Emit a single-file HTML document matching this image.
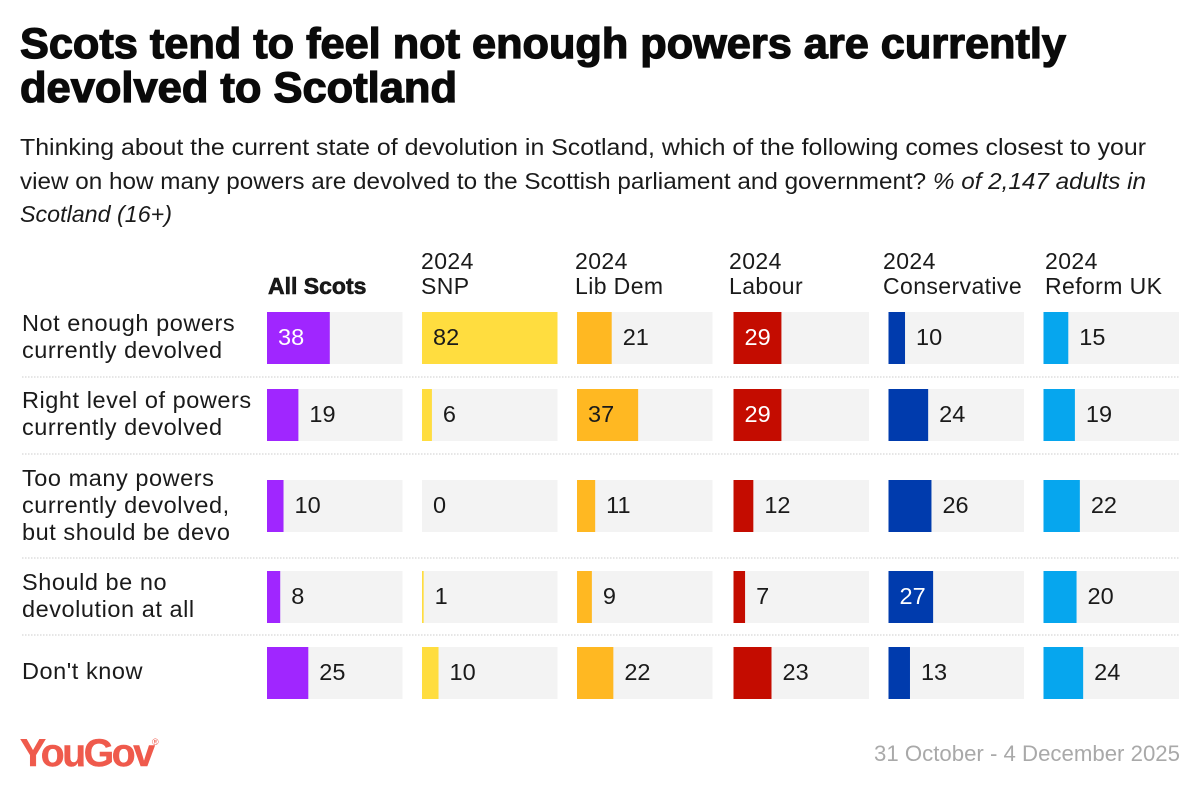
<!DOCTYPE html>
<html lang="en">
<head>
<meta charset="utf-8">
<title>Scots tend to feel not enough powers are currently devolved to Scotland</title>
<style>
html,body{margin:0;padding:0;background:#fff;}
svg{display:block;font-family:"Liberation Sans",sans-serif;}
.title{font-size:43px;font-weight:700;fill:#0a0a0a;stroke:#0a0a0a;stroke-width:1.3px;}
.sub{font-size:23.5px;fill:#1a1a1a;}
.head{font-size:23px;fill:#1a1a1a;letter-spacing:.4px;}
.cat{font-size:23.5px;fill:#1a1a1a;letter-spacing:.55px;}
.val{font-size:23.5px;}
</style>
</head>
<body>
<svg id="chart" width="1200" height="792" viewBox="0 0 1200 792" xmlns="http://www.w3.org/2000/svg">
<rect width="1200" height="792" fill="#fff"/>
<g>
<text class="title" x="20" y="58" textLength="1046" lengthAdjust="spacingAndGlyphs">Scots tend to feel not enough powers are currently</text>
<text class="title" x="20" y="102" textLength="437" lengthAdjust="spacingAndGlyphs">devolved to Scotland</text>
</g>
<g>
<text class="sub" x="20" y="155" textLength="1126" lengthAdjust="spacingAndGlyphs">Thinking about the current state of devolution in Scotland, which of the following comes closest to your</text>
<text class="sub" x="20" y="189" textLength="1126" lengthAdjust="spacingAndGlyphs">view on how many powers are devolved to the Scottish parliament and government? <tspan font-style="italic">% of 2,147 adults in</tspan></text>
<text class="sub" x="20" y="222" textLength="152" lengthAdjust="spacingAndGlyphs" font-style="italic">Scotland (16+)</text>
</g>
<g id="grid"></g>
<g id="heads"></g>
<g id="cats"></g>
<g id="bars"></g>
<text x="20" y="766" font-size="39" font-weight="700" fill="#ef5a4c" stroke="#ef5a4c" stroke-width="0.5" textLength="135" lengthAdjust="spacing">YouGov</text>
<text x="152" y="745" font-size="9" fill="#ef5a4c">®</text>
<text x="1180" y="761" text-anchor="end" font-size="22" fill="#a9a9a9" textLength="306" lengthAdjust="spacingAndGlyphs">31 October - 4 December 2025</text>
</svg>
<script>
const categories = [
  ["Not enough powers", "currently devolved"],
  ["Right level of powers", "currently devolved"],
  ["Too many powers", "currently devolved,", "but should be devo"],
  ["Should be no", "devolution at all"],
  ["Don't know"]
];
const groups = [
  ["All Scots"],
  ["2024", "SNP"],
  ["2024", "Lib Dem"],
  ["2024", "Labour"],
  ["2024", "Conservative"],
  ["2024", "Reform UK"]
];
const allScots = [38, 19, 10, 8, 25];
const snp = [82, 6, 0, 1, 10];
const libDem = [21, 37, 11, 9, 22];
const labour = [29, 29, 12, 7, 23];
const conservative = [10, 24, 26, 27, 13];
const reformUk = [15, 19, 22, 20, 24];
const series = [allScots, snp, libDem, labour, conservative, reformUk];

const NS = "http://www.w3.org/2000/svg";
const colors = ["#a026ff", "#ffdd3f", "#ffb822", "#c40c00", "#003bad", "#06a6ee"];
const lightText = [true, false, false, true, true, false];
const colX = [267, 422, 577, 733.5, 888.5, 1043.5];
const headX = [268, 421, 575, 729, 883, 1045];
const rowTop = [312, 389, 480, 571, 647];
const catBaseline = [331, 408, 486, 590, 679];
const sepY = [377, 454, 558, 635];
const trackW = 135.5, barH = 52, domainMax = 82, insideMin = 27;

function xScale(v) { return v / domainMax * trackW; }
function mk(tag, attrs, parent, txt) {
  const el = document.createElementNS(NS, tag);
  for (const k in attrs) el.setAttribute(k, attrs[k]);
  if (txt !== undefined) el.textContent = txt;
  parent.appendChild(el);
  return el;
}
const grid = document.getElementById("grid");
const heads = document.getElementById("heads");
const cats = document.getElementById("cats");
const bars = document.getElementById("bars");

sepY.forEach(function (y) {
  const line = mk("line", {x1: 22, x2: 1179, y1: y, y2: y, stroke: "#cccccc", "stroke-width": 1, "stroke-dasharray": "1.5 1.5"}, grid);
  
  
});

groups.forEach(function (lines, g) {
  lines.forEach(function (t, i) {
    const y = 294 - (lines.length - 1 - i) * 25;
    const bold = g === 0;
    const el = mk("text", {x: headX[g], y: y, "class": "head", "font-weight": bold ? 700 : 400, fill: "#111"}, heads, t);
    
    
    if (bold) { el.setAttribute("font-size", "22"); el.setAttribute("style", "letter-spacing:0"); el.setAttribute("stroke", "#111"); el.setAttribute("stroke-width", "0.6"); }
  });
});

categories.forEach(function (lines, r) {
  lines.forEach(function (t, i) {
    const el = mk("text", {x: 22, y: catBaseline[r] + i * 27, "class": "cat"}, cats, t);
    
    
  });
});

series.forEach(function (vals, g) {
  vals.forEach(function (v, r) {
    const track = mk("rect", {x: colX[g], y: rowTop[r], width: trackW, height: barH, fill: "#f3f3f3"}, bars);
    
    
    const w = xScale(v);
    const bar = mk("rect", {x: colX[g], y: rowTop[r], width: w, height: barH, fill: colors[g]}, bars);
    
    
    const inside = v >= insideMin;
    const lx = inside ? colX[g] + 11 : colX[g] + w + 11;
    const fill = inside && lightText[g] ? "#fff" : "#1a1a1a";
    const label = mk("text", {x: lx, y: rowTop[r] + 33, "class": "val", fill: fill}, bars, String(v));
    
    
  });
});
</script>
</body>
</html>
